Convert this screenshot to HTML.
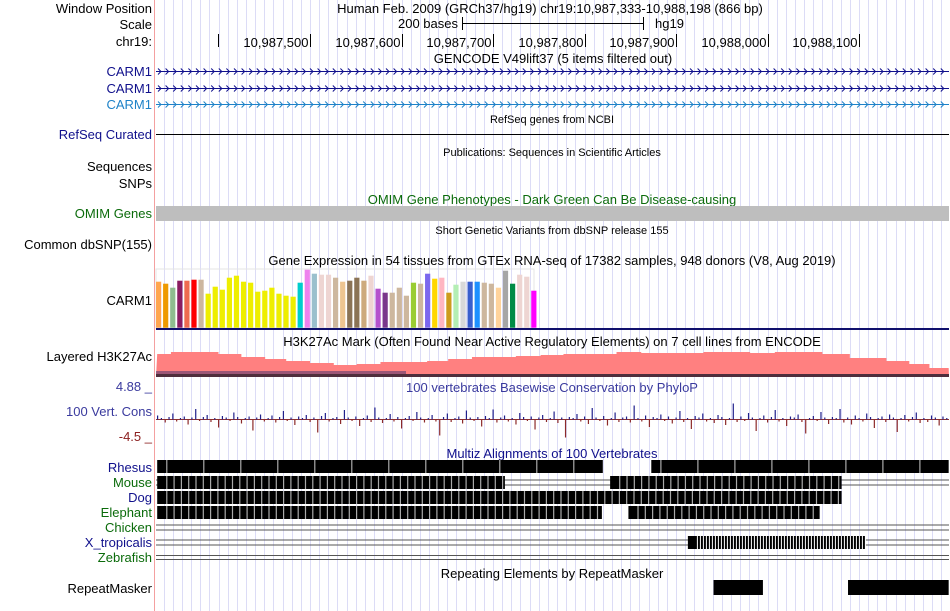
<!DOCTYPE html>
<html><head><meta charset="utf-8"><style>
body{margin:0;background:#fff;}
svg{display:block;font-family:"Liberation Sans",sans-serif;}
</style></head><body>
<svg id="c" width="950" height="611" xmlns="http://www.w3.org/2000/svg">
<g id="grid"></g>
<line x1="154.5" y1="0" x2="154.5" y2="611" stroke="#f4a0a0"/>
<g font-size="13" fill="#000">
<text x="152" y="13" text-anchor="end">Window Position</text>
<text x="152" y="29" text-anchor="end">Scale</text>
<text x="152" y="46" text-anchor="end">chr19:</text>
<text x="550" y="13" text-anchor="middle">Human Feb. 2009 (GRCh37/hg19)   chr19:10,987,333-10,988,198 (866 bp)</text>
<text x="458" y="28" text-anchor="end">200 bases</text>
<text x="655" y="28">hg19</text>
<text x="553" y="63" text-anchor="middle">GENCODE V49lift37 (5 items filtered out)</text>
</g>
<g stroke="#000"><line x1="462" y1="23.5" x2="644" y2="23.5"/><line x1="462.5" y1="17" x2="462.5" y2="30"/><line x1="643.5" y1="17" x2="643.5" y2="30"/></g>
<g id="ruler"></g>
<g id="genes"></g>
<g font-size="13">
<text x="152" y="76" text-anchor="end" fill="#10108c">CARM1</text>
<text x="152" y="93" text-anchor="end" fill="#10108c">CARM1</text>
<text x="152" y="109" text-anchor="end" fill="#1e82c8">CARM1</text>
<text x="152" y="139" text-anchor="end" fill="#10108c">RefSeq Curated</text>
<text x="152" y="171" text-anchor="end">Sequences</text>
<text x="152" y="188" text-anchor="end">SNPs</text>
<text x="152" y="218" text-anchor="end" fill="#0b6b0b">OMIM Genes</text>
<text x="152" y="249" text-anchor="end">Common dbSNP(155)</text>
<text x="152" y="305" text-anchor="end">CARM1</text>
<text x="152" y="361" text-anchor="end">Layered H3K27Ac</text>
<text x="152" y="416" text-anchor="end" fill="#3a3a9e">100 Vert. Cons</text>
<text x="152" y="391" text-anchor="end" fill="#3a3a9e">4.88 _</text>
<text x="152" y="441" text-anchor="end" fill="#8c2020">-4.5 _</text>
<text x="152" y="472" text-anchor="end" fill="#10108c">Rhesus</text>
<text x="152" y="487" text-anchor="end" fill="#0b6b0b">Mouse</text>
<text x="152" y="502" text-anchor="end" fill="#10108c">Dog</text>
<text x="152" y="517" text-anchor="end" fill="#0b6b0b">Elephant</text>
<text x="152" y="532" text-anchor="end" fill="#0b6b0b">Chicken</text>
<text x="152" y="547" text-anchor="end" fill="#10108c">X_tropicalis</text>
<text x="152" y="562" text-anchor="end" fill="#0b6b0b">Zebrafish</text>
<text x="152" y="593" text-anchor="end">RepeatMasker</text>
<text x="552" y="265" text-anchor="middle">Gene Expression in 54 tissues from GTEx RNA-seq of 17382 samples, 948 donors (V8, Aug 2019)</text>
<text x="552" y="346" text-anchor="middle">H3K27Ac Mark (Often Found Near Active Regulatory Elements) on 7 cell lines from ENCODE</text>
<text x="552" y="392" text-anchor="middle" fill="#3a3a9e">100 vertebrates Basewise Conservation by PhyloP</text>
<text x="552" y="458" text-anchor="middle" fill="#10108c">Multiz Alignments of 100 Vertebrates</text>
<text x="552" y="578" text-anchor="middle">Repeating Elements by RepeatMasker</text>
<text x="552" y="204" text-anchor="middle" fill="#0b6b0b">OMIM Gene Phenotypes - Dark Green Can Be Disease-causing</text>
</g>
<g font-size="11">
<text x="552" y="123" text-anchor="middle">RefSeq genes from NCBI</text>
<text x="552" y="156" text-anchor="middle">Publications: Sequences in Scientific Articles</text>
<text x="552" y="234" text-anchor="middle">Short Genetic Variants from dbSNP release 155</text>
</g>
<line x1="156" y1="134.5" x2="949" y2="134.5" stroke="#000"/>
<rect x="156" y="206" width="793" height="15" fill="#bebebe"/>
<rect x="156" y="269" width="378" height="59" fill="none" stroke="#e4e4e4"/>
<g id="gtex"></g>
<rect x="156" y="328" width="793" height="2" fill="#10106c"/>
<g id="h3k"></g>
<g id="phylop"></g>
<g id="multiz"></g>
<g id="rmsk"></g>
</svg>
<script>
const rulerTicks=[10987500,10987600,10987700,10987800,10987900,10988000,10988100];
const rulerLabels=["10,987,500","10,987,600","10,987,700","10,987,800","10,987,900","10,988,000","10,988,100"];
const gtexValues=[46,44,40,47,47,48,48,34,41,38,50,52,46,45,36,37,40,34,32,31,45,58,54,53,53,50,46,47,50,47,52,39,35,35,40,32,45,44,54,49,50,35,43,46,46,46,45,44,40,57,44,53,51,37];
const gtexColors=["#FFA54F","#EE9A00","#8FBC8F","#8B1C62","#EE6A50","#FF0000","#CDB79E","#EEEE00","#EEEE00","#EEEE00","#EEEE00","#EEEE00","#EEEE00","#EEEE00","#EEEE00","#EEEE00","#EEEE00","#EEEE00","#EEEE00","#EEEE00","#00CDCD","#EE82EE","#9AC0CD","#EED5D2","#EED5D2","#CDB79E","#EEC591","#8B7355","#8B7355","#CDAA7D","#EED5D2","#B452CD","#7A378B","#CDB79E","#CDB79E","#CDB79E","#9ACD32","#CDB79E","#7B68EE","#FFD700","#FFB6C1","#CD9B1D","#B4EEB4","#D9D9D9","#3A5FCD","#1E90FF","#CDB79E","#CDB79E","#FFD39B","#A6A6A6","#008B45","#EED5D2","#EED5D2","#FF00FF"];
const h3kStarts=[10987333,10987348,10987400,10987425,10987451,10987474,10987500,10987526,10987551,10987577,10987628,10987651,10987677,10987700,10987725,10987752,10987777,10987835,10987862,10987930,10987957,10987981,10988008,10988060,10988090,10988130,10988155,10988177];
const h3kValues=[23,25,23,20,18,16,14,12,13,15,16,18,20,20,21,22,23,25,24,25,25,24,25,23,19,16,13,9];
const phylopValues=[0.8,0.3,-0.6,0.5,1.2,-0.4,0.3,0.6,-1.0,0.4,2.1,-0.3,0.5,0.9,-0.5,0.3,-1.6,0.7,0.4,-0.3,1.4,0.5,-0.8,0.3,0.6,-2.2,0.4,1.0,-0.4,0.3,0.8,-0.6,0.5,1.7,-0.3,0.4,-1.1,0.6,0.3,0.9,-0.5,0.4,-2.6,0.7,1.3,-0.4,0.3,0.5,-0.9,1.9,0.4,-0.3,0.6,-1.3,0.3,0.8,-0.5,2.4,0.4,-0.7,0.3,1.1,-0.4,0.5,-1.8,0.3,0.7,-0.3,1.5,0.4,-0.6,0.3,0.9,-0.4,-3.2,0.5,1.2,-0.5,0.3,0.6,-0.8,1.8,0.4,-0.3,0.5,-1.4,0.7,0.3,2.0,-0.6,0.4,0.8,-0.4,0.3,-1.0,1.3,0.5,-0.3,0.6,-2.0,0.4,0.9,-0.5,0.3,1.6,-0.7,0.4,-3.6,0.5,0.3,1.1,-0.4,0.6,-0.9,2.3,0.4,-0.3,0.7,-1.2,0.3,1.4,-0.5,0.4,0.6,-0.6,2.8,0.3,-0.4,0.8,-1.5,0.5,0.3,1.0,-0.3,0.6,-0.8,0.4,1.7,-0.5,0.3,-1.9,0.7,0.4,1.2,-0.4,0.3,-0.7,0.9,0.5,-1.1,0.3,3.2,-0.5,0.6,-0.3,1.3,0.4,-2.3,0.3,0.8,-0.6,0.5,1.9,-0.4,0.3,-1.3,0.6,0.4,1.0,-0.5,-2.8,0.3,0.7,-0.3,1.5,0.4,-0.9,0.5,0.3,2.1,-0.6,0.4,-1.0,0.8,0.3,-0.4,1.2,0.5,-1.7,0.3,0.6,-0.5,1.0,0.4,-2.5,0.3,0.9,-0.4,0.5,1.4,-0.7,0.3,-0.5,0.8,0.4,-1.2,0.6,0.3];
const multizRows=[[[10987333,10987820],[10987873,10988198]],[[10987333,10987713],[10987828,10988081]],[[10987333,10988081]],[[10987333,10987819],[10987848,10988057]],[],[[10987913,10988107]]];
const rmskBlocks=[[10987941,10987995],[10988088,10988198]];
const NS='http://www.w3.org/2000/svg';
const x=bp=>310+(bp-10987500)*0.915;
function mk(p,t,a){const e=document.createElementNS(NS,t);for(const k in a)e.setAttribute(k,a[k]);document.getElementById(p).appendChild(e);return e;}
for(let bp=10987340;bp<=10988198;bp+=10){const X=Math.round(x(bp))+0.5;if(X<156)continue;const e=mk('grid','line',{x1:X,y1:0,x2:X,y2:611,stroke:'#dcdcf6'});

}
rulerTicks.forEach((bp,i)=>{const X=Math.round(x(bp))+0.5;const l=mk('ruler','line',{x1:X,y1:34,x2:X,y2:47,stroke:'#000'});


const t=mk('ruler','text',{x:X-2,y:47,'text-anchor':'end','font-size':13});t.textContent=rulerLabels[i];

});
{const l=mk('ruler','line',{x1:218.5,y1:34,x2:218.5,y2:47,stroke:'#000'});

}
[[71,'#10108c'],[88,'#10108c'],[104,'#1e82c8']].forEach(([y,c])=>{const g=mk('genes','g',{stroke:c,fill:'none'});


const ln=document.createElementNS(NS,'line');ln.setAttribute('x1',156);ln.setAttribute('x2',949);ln.setAttribute('y1',y+0.5);ln.setAttribute('y2',y+0.5);g.appendChild(ln);
let d='';for(let X=158;X<946;X+=7.6)d+=`M${X},${y-2.5}L${X+3},${y+0.5}L${X},${y+3.5}`;const p=document.createElementNS(NS,'path');p.setAttribute('d',d);g.appendChild(p);});
gtexValues.forEach((v,i)=>{const r=mk('gtex','rect',{x:156+i*7.08,y:327.7-v,width:5.2,height:v,fill:gtexColors[i]});

});
{let d='M156,377';h3kStarts.forEach((s,i)=>{const e=i+1<h3kStarts.length?h3kStarts[i+1]:10988198;const y=377-h3kValues[i];d+=`L${Math.max(156,x(s))},${y}L${Math.min(949,x(e))},${y}`;});d+='L949,377Z';
const p=mk('h3k','path',{d:d,fill:'#ff8080'});


const b=mk('h3k','rect',{x:156,y:374,width:793,height:3,fill:'#302030',opacity:0.85});


const b2=mk('h3k','rect',{x:156,y:371,width:250,height:3,fill:'#5a3a70',opacity:0.6});

}
{const z=mk('phylop','line',{x1:156,y1:419.5,x2:949,y2:419.5,stroke:'#8c3030'});


const step=793/phylopValues.length;
phylopValues.forEach((v,i)=>{const X=156+i*step+1;const r=mk('phylop','rect',{x:X,y:v>0?419.5-v*5:419.5,width:1.2,height:Math.abs(v)*5,fill:v>0?'#20208c':'#8c2a2a'});

});}
const rowY=[460,476,491,506,521,536];
multizRows.forEach((row,ri)=>{const y=rowY[ri];const ln=mk('multiz','g',{stroke:'#555'});


if(ri>=1&&ri!==2&&ri!==3){[4,9].forEach(o=>{const l=document.createElementNS(NS,'line');l.setAttribute('x1',156);l.setAttribute('x2',949);l.setAttribute('y1',y+o);l.setAttribute('y2',y+o);ln.appendChild(l);});}
row.forEach(([s,e])=>{const x0=Math.max(156,x(s)),x1=Math.min(949,x(e));const r=mk('multiz','rect',{x:x0,y:y,width:x1-x0,height:13,fill:'#000'});


for(let X=x0+9;X<x1;X+=ri===0?37:(ri===5?3:7.3)){const w=mk('multiz','rect',{x:X,y:y,width:ri===5?1:1.2,height:13,fill:ri===5?'#fff':'#aaa'});

}});});
{const z=mk('multiz','g',{stroke:'#555'});


[555.5,559.5].forEach(y=>{const l=document.createElementNS(NS,'line');l.setAttribute('x1',156);l.setAttribute('x2',949);l.setAttribute('y1',y);l.setAttribute('y2',y);z.appendChild(l);});}
rmskBlocks.forEach(([s,e])=>{const x0=x(s),x1=Math.min(949,x(e));const r=mk('rmsk','rect',{x:x0,y:580,width:x1-x0,height:15,fill:'#000'});

});
</script>
</body></html>
